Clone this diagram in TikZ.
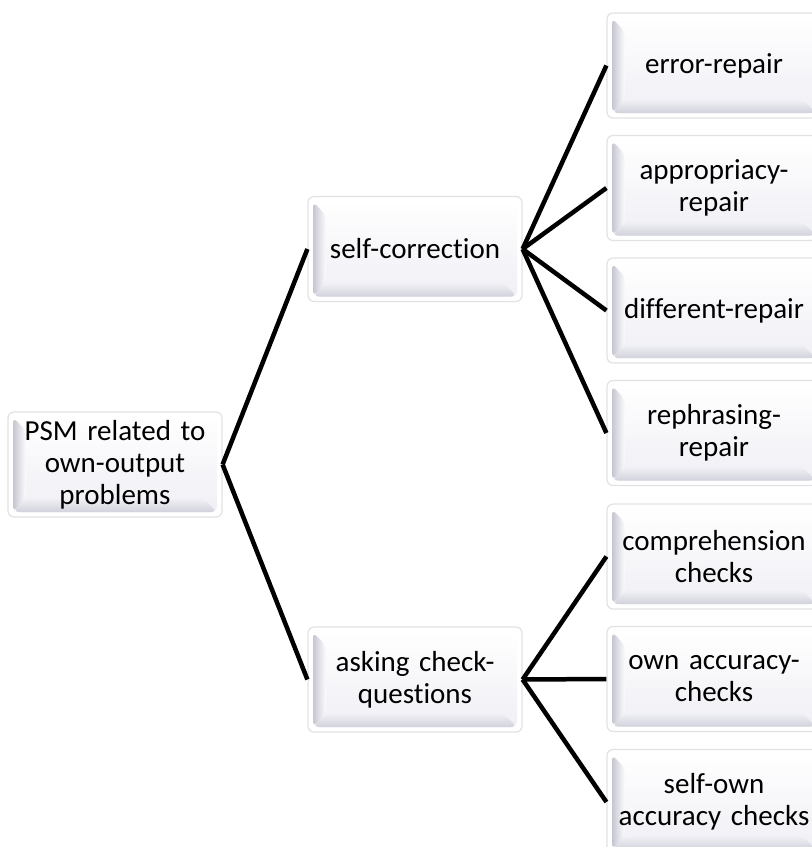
\documentclass[tikz,border=0pt]{standalone}
\usepackage{fontspec}
\setmainfont{Carlito}[Ligatures=NoCommon]
\usetikzlibrary{calc}
\definecolor{bordc}{HTML}{E2E2E4}
\definecolor{bevdark}{HTML}{C6C6D2}
\definecolor{bevbot}{HTML}{D2D2DC}
\definecolor{facebot}{HTML}{EFEFF5}
\tikzset{
  bev/.style={rectangle, rounded corners=6pt, draw=bordc, line width=1.2pt,
    fill=white, minimum width=214pt, minimum height=105pt, inner sep=2pt,
    align=center, text width=205pt, font=\fontsize{29}{32}\selectfont,
    path picture={
      \coordinate (A) at ([shift={(5pt,-5pt)}]path picture bounding box.north west);
      \coordinate (B) at ([shift={(-5pt,-5pt)}]path picture bounding box.north east);
      \coordinate (C) at ([shift={(-5pt,5pt)}]path picture bounding box.south east);
      \coordinate (D) at ([shift={(5pt,5pt)}]path picture bounding box.south west);
      \coordinate (a) at ([shift={(13pt,-14pt)}]A);
      \coordinate (d) at ([shift={(13pt,13pt)}]D);
      \coordinate (c) at ([shift={(-13pt,13pt)}]C);
      \shade[top color=white, bottom color=facebot] (A) -- (B) -- (C) -- (D) -- cycle;
      \shade[left color=bevdark, right color=white!96!bevdark] (A) -- (a) -- (d) -- (D) -- cycle;
      \shade[bottom color=bevbot, top color=facebot] (D) -- (d) -- (c) -- (C) -- cycle;
    }},
  conn/.style={line width=4.5pt, black}
}
\begin{document}
\begin{tikzpicture}[x=1pt,y=1pt]
\useasboundingbox (0,0) rectangle (812,-847);
\node[bev] (psm) at (115,-464.5) {PSM related to\\own-output\\problems};
\node[bev] (sc) at (415,-249) {self-correction};
\node[bev] (ask) at (415,-679.5) {asking check-\\questions};
\node[bev] (er) at (714,-65.5) {error-repair};
\node[bev] (ap) at (714,-188) {appropriacy-\\repair};
\node[bev] (dr) at (714,-310.5) {different-repair};
\node[bev] (rr) at (714,-433) {rephrasing-\\repair};
\node[bev] (cc) at (714,-556.5) {comprehension\\checks};
\node[bev] (oa) at (714,-679) {own accuracy-\\checks};
\node[bev] (so) at (714,-802) {self-own\\accuracy checks};
\draw[conn] (psm.east) -- (sc.west);
\draw[conn] (psm.east) -- (ask.west);
\foreach \t in {er,ap,dr,rr} \draw[conn] (sc.east) -- (\t.west);
\foreach \t in {cc,oa,so} \draw[conn] (ask.east) -- (\t.west);
\end{tikzpicture}
\end{document}
